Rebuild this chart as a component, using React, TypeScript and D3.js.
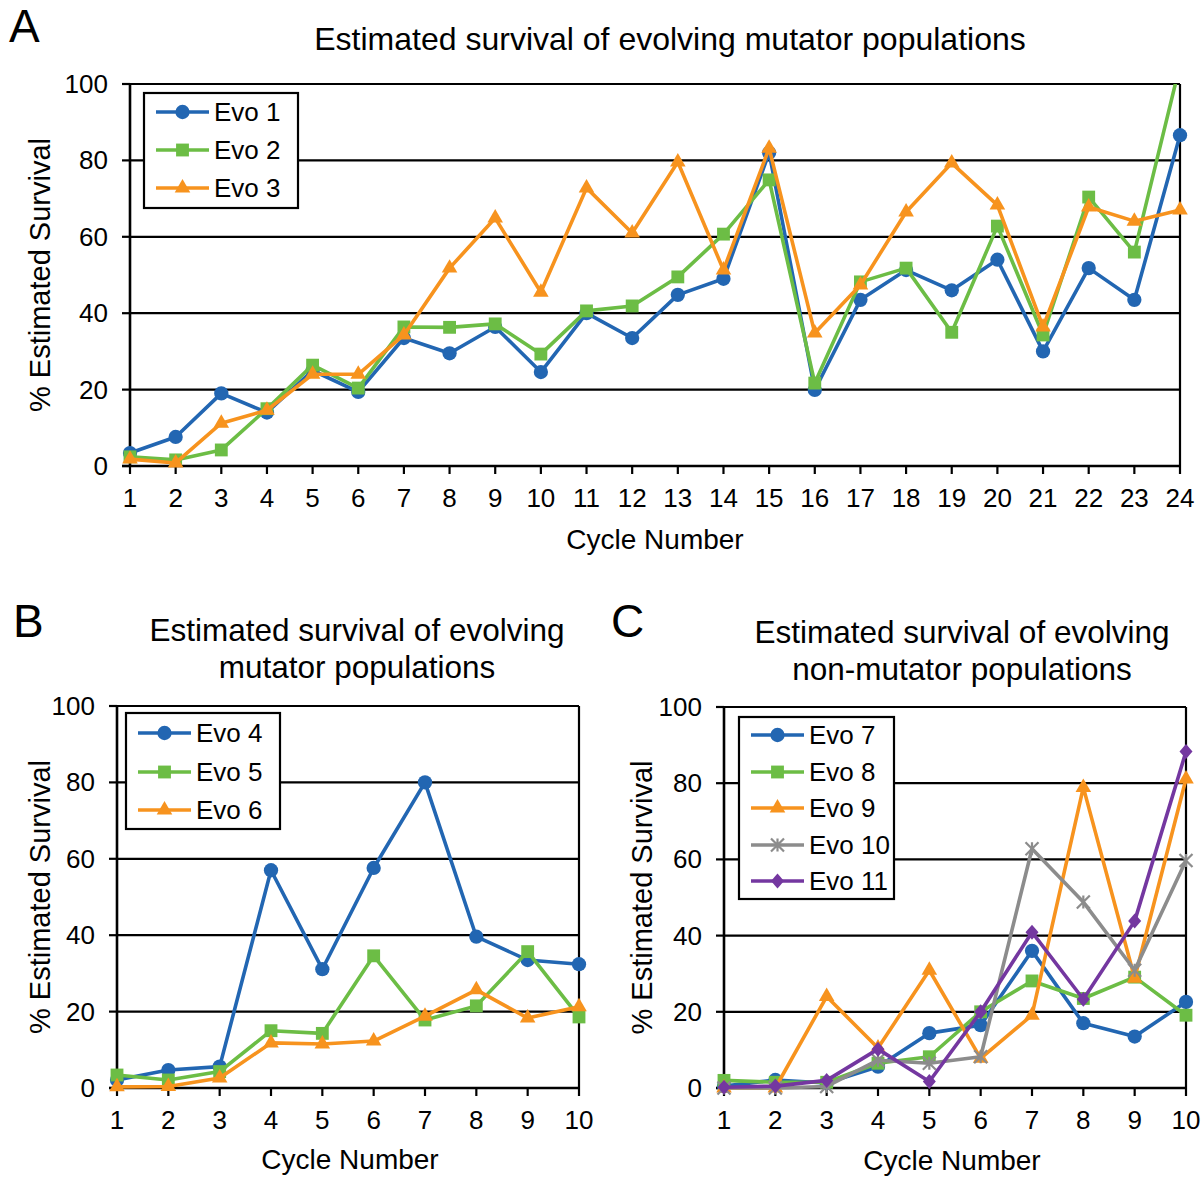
import React from 'react';
import * as d3 from 'd3';

// ---------- DATA ----------
const cyclesA = [1, 2, 3, 4, 5, 6, 7, 8, 9, 10, 11, 12, 13, 14, 15, 16, 17, 18, 19, 20, 21, 22, 23, 24];
const cyclesBC = [1, 2, 3, 4, 5, 6, 7, 8, 9, 10];
const yTicks = [0, 20, 40, 60, 80, 100];

const evo1 = [3.4, 7.6, 19, 14, 25, 19.4, 33.5, 29.5, 36.4, 24.6, 40, 33.5, 44.8, 49, 82, 19.9, 43.5, 51.3, 46, 54, 30, 51.8, 43.5, 86.6];
const evo2 = [2.4, 1.6, 4.2, 15, 26.4, 20.4, 36.4, 36.3, 37.2, 29.3, 40.6, 41.9, 49.5, 60.7, 74.9, 21.7, 48.2, 51.8, 35, 62.8, 34.3, 70.4, 56, 105];
const evo3 = [1.8, 0.8, 11.2, 14.6, 24, 24, 34.3, 51.8, 64.9, 45.5, 72.8, 61, 79.6, 51.3, 83.2, 34.8, 47.4, 66.5, 79.3, 68.3, 36.4, 67.8, 64.1, 67];

const evo4 = [2.1, 4.7, 5.6, 57, 31.1, 57.6, 80, 39.6, 33.5, 32.4];
const evo5 = [3.4, 2.1, 4.3, 15, 14.3, 34.6, 17.8, 21.5, 35.7, 18.6];
const evo6 = [0.3, 0.4, 2.6, 11.8, 11.5, 12.3, 18.8, 25.7, 18.3, 21.3];

const evo7 = [0.5, 2.1, 1.3, 5.6, 14.4, 16.5, 36, 17, 13.5, 22.6];
const evo8 = [2, 1.5, 1.5, 6.5, 8.2, 20, 28.1, 23.5, 29.1, 19.1];
const evo9 = [0, 0, 24, 10.5, 30.9, 7.8, 19.1, 78.9, 28.8, 81.1];
const evo10 = [0, 0, 0.4, 7.3, 6.5, 8.2, 62.8, 48.8, 30.9, 59.7];
const evo11 = [0.2, 0.5, 2, 10.2, 1.7, 20, 40.9, 23.3, 43.8, 88.3];

const titleA = ['Estimated survival of evolving mutator populations'];
const titleB = ['Estimated survival of evolving', 'mutator populations'];
const titleC = ['Estimated survival of evolving', 'non-mutator populations'];
const xLabel = 'Cycle Number';
const yLabel = '% Estimated Survival';

// ---------- STYLE ----------
const FONT = "'Liberation Sans', Arial, Helvetica, sans-serif";
const BLUE = '#2266b2';
const GREEN = '#6cbd45';
const ORANGE = '#f7931e';
const GRAY = '#8c8c8c';
const PURPLE = '#7437a0';

type Series = { name: string; values: number[]; color: string; shape: string };

const seriesA: Series[] = [
  { name: 'Evo 1', values: evo1, color: BLUE, shape: 'circle' },
  { name: 'Evo 2', values: evo2, color: GREEN, shape: 'square' },
  { name: 'Evo 3', values: evo3, color: ORANGE, shape: 'triangle' },
];
const seriesB: Series[] = [
  { name: 'Evo 4', values: evo4, color: BLUE, shape: 'circle' },
  { name: 'Evo 5', values: evo5, color: GREEN, shape: 'square' },
  { name: 'Evo 6', values: evo6, color: ORANGE, shape: 'triangle' },
];
const seriesC: Series[] = [
  { name: 'Evo 7', values: evo7, color: BLUE, shape: 'circle' },
  { name: 'Evo 8', values: evo8, color: GREEN, shape: 'square' },
  { name: 'Evo 9', values: evo9, color: ORANGE, shape: 'triangle' },
  { name: 'Evo 10', values: evo10, color: GRAY, shape: 'asterisk' },
  { name: 'Evo 11', values: evo11, color: PURPLE, shape: 'diamond' },
];

function Marker({ shape, x, y, color }: { shape: string; x: number; y: number; color: string }) {
  if (shape === 'asterisk') {
    const r = 6.5;
    const d = `M0,${-r}L0,${r}M${-r},${-r}L${r},${r}M${-r},${r}L${r},${-r}`;
    return <path d={d} transform={`translate(${x},${y})`} stroke={color} strokeWidth={2.2} fill="none" />;
  }
  if (shape === 'diamond') {
    const w = 6.5, h = 7.5;
    const d = `M0,${-h}L${w},0L0,${h}L${-w},0Z`;
    return <path d={d} transform={`translate(${x},${y})`} fill={color} />;
  }
  let sym: d3.SymbolType = d3.symbolCircle;
  let size = 160;
  if (shape === 'square') { sym = d3.symbolSquare; size = 165; }
  if (shape === 'triangle') { sym = d3.symbolTriangle; size = 105; }
  const d = d3.symbol(sym, size)() || '';
  return <path d={d} transform={`translate(${x},${y})`} fill={color} />;
}

type PanelProps = {
  id: string;
  letter: string;
  letterX: number;
  letterY: number;
  title: string[];
  titleX: number;
  titleY: number;
  titleGap: number;
  titleSize: number;
  cats: number[];
  series: Series[];
  left: number;
  right: number;
  top: number;
  bottom: number;
  yLabelX: number;
  xLabelX: number;
  xLabelY: number;
  legend: { x: number; y: number; w: number; h: number; rowY: number[] };
};

function Panel(p: PanelProps) {
  const x = d3.scalePoint<number>().domain(p.cats).range([p.left, p.right]).padding(0);
  const y = d3.scaleLinear().domain([0, 100]).range([p.bottom, p.top]);
  const line = d3.line<number>().x((_, i) => x(p.cats[i]) as number).y((v) => y(v));
  const clipId = `clip-${p.id}`;
  return (
    <g>
      <text x={p.letterX} y={p.letterY} fontSize={46} fontFamily={FONT}>{p.letter}</text>
      {p.title.map((t, i) => (
        <text key={i} x={p.titleX} y={p.titleY + i * p.titleGap} fontSize={p.titleSize} fontFamily={FONT} textAnchor="middle">{t}</text>
      ))}
      <defs>
        <clipPath id={clipId}>
          <rect x={p.left - 20} y={p.top} width={p.right - p.left + 40} height={p.bottom - p.top + 20} />
        </clipPath>
      </defs>
      {/* gridlines */}
      {yTicks.filter((t) => t > 0).map((t) => (
        <line key={t} x1={p.left} x2={p.right} y1={y(t)} y2={y(t)} stroke="#000" strokeWidth={2.2} />
      ))}
      <line x1={p.right} x2={p.right} y1={p.top} y2={p.bottom} stroke="#000" strokeWidth={2.2} />
      {/* axes */}
      <line x1={p.left} x2={p.left} y1={p.top - 1} y2={p.bottom + 1} stroke="#000" strokeWidth={2.6} />
      <line x1={p.left - 8} x2={p.right + 1} y1={p.bottom} y2={p.bottom} stroke="#000" strokeWidth={2.6} />
      {yTicks.map((t) => (
        <g key={t}>
          <line x1={p.left - 8} x2={p.left} y1={y(t)} y2={y(t)} stroke="#000" strokeWidth={2.2} />
          <text x={p.left - 22} y={y(t) + 9} fontSize={26} fontFamily={FONT} textAnchor="end">{t}</text>
        </g>
      ))}
      {p.cats.map((c) => (
        <g key={c}>
          <line x1={x(c)} x2={x(c)} y1={p.bottom} y2={p.bottom + 8} stroke="#000" strokeWidth={2.2} />
          <text x={x(c)} y={p.bottom + 41} fontSize={26} fontFamily={FONT} textAnchor="middle">{c}</text>
        </g>
      ))}
      <text x={p.xLabelX} y={p.xLabelY} fontSize={28} fontFamily={FONT} textAnchor="middle">{xLabel}</text>
      <text transform={`translate(${p.yLabelX},${(p.top + p.bottom) / 2}) rotate(-90)`} fontSize={29} fontFamily={FONT} textAnchor="middle">{yLabel}</text>
      {/* series */}
      <g clipPath={`url(#${clipId})`}>
        {p.series.map((s) => (
          <g key={s.name}>
            <path d={line(s.values) || ''} fill="none" stroke={s.color} strokeWidth={3.6} strokeLinejoin="round" />
            {s.values.map((v, i) => (
              <Marker key={i} shape={s.shape} x={x(p.cats[i]) as number} y={y(v)} color={s.color} />
            ))}
          </g>
        ))}
      </g>
      {/* legend */}
      <rect x={p.legend.x} y={p.legend.y} width={p.legend.w} height={p.legend.h} fill="#fff" stroke="#000" strokeWidth={2.2} />
      {p.series.map((s, i) => {
        const ly = p.legend.rowY[i];
        const lx0 = p.legend.x + 12;
        const lx1 = lx0 + 53;
        return (
          <g key={s.name}>
            <line x1={lx0} x2={lx1} y1={ly} y2={ly} stroke={s.color} strokeWidth={3.6} />
            <Marker shape={s.shape} x={(lx0 + lx1) / 2} y={ly} color={s.color} />
            <text x={lx1 + 5} y={ly + 9} fontSize={26} fontFamily={FONT}>{s.name}</text>
          </g>
        );
      })}
    </g>
  );
}

export default function App() {
  return (
    <svg width={1202} height={1178} style={{ position: 'absolute', left: 0, top: 0, background: '#fff' }}>
      <rect width={1202} height={1178} fill="#fff" />
      <Panel
        id="A" letter="A" letterX={9} letterY={42}
        title={titleA} titleX={670} titleY={50} titleGap={0} titleSize={32}
        cats={cyclesA} series={seriesA}
        left={130} right={1180} top={84} bottom={466}
        yLabelX={50} xLabelX={655} xLabelY={549}
        legend={{ x: 144, y: 93, w: 154, h: 115, rowY: [112, 150, 188] }}
      />
      <Panel
        id="B" letter="B" letterX={13} letterY={637}
        title={titleB} titleX={357} titleY={641} titleGap={37} titleSize={31.5}
        cats={cyclesBC} series={seriesB}
        left={117} right={579} top={706} bottom={1088}
        yLabelX={50} xLabelX={350} xLabelY={1169}
        legend={{ x: 126, y: 713, w: 154, h: 116, rowY: [733, 772, 810] }}
      />
      <Panel
        id="C" letter="C" letterX={611} letterY={637}
        title={titleC} titleX={962} titleY={643} titleGap={37} titleSize={31.5}
        cats={cyclesBC} series={seriesC}
        left={724} right={1186} top={707} bottom={1088}
        yLabelX={652} xLabelX={952} xLabelY={1170}
        legend={{ x: 739, y: 717, w: 155, h: 182, rowY: [735, 772, 808, 845, 881] }}
      />
    </svg>
  );
}
